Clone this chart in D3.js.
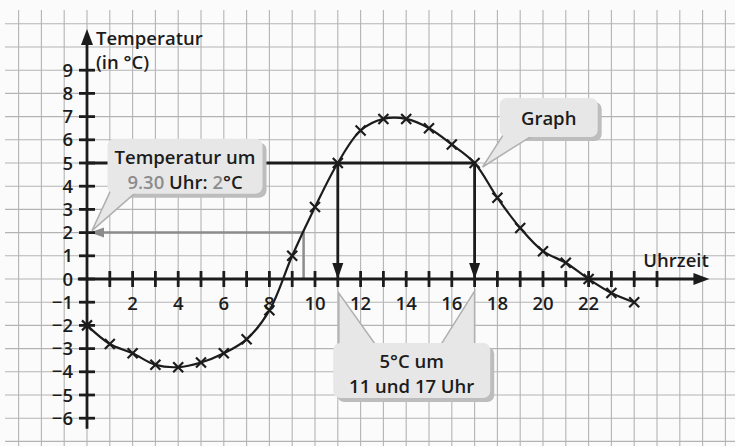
<!DOCTYPE html>
<html>
<head>
<meta charset="utf-8">
<script src="https://cdn.jsdelivr.net/npm/d3@7"></script>
<style>
  html, body { margin: 0; padding: 0; background: #fbfbfb; }
  svg { display: block; font-family: "Open Sans", "Noto Sans", sans-serif; }
</style>
</head>
<body>
<div id="chart"></div>
<script>
// data
let hours = [0, 1, 2, 3, 4, 5, 6, 7, 8, 9, 10, 11, 12, 13, 14, 15, 16, 17, 18, 19, 20, 21, 22, 23, 24];
let temps = [-2, -2.8, -3.2, -3.7, -3.8, -3.6, -3.2, -2.6, -1.35, 1, 3.1, 5, 6.4, 6.9, 6.9, 6.5, 5.8, 5, 3.5, 2.2, 1.2, 0.7, 0, -0.6, -1];
let yTicks = [-6, -5, -4, -3, -2, -1, 0, 1, 2, 3, 4, 5, 6, 7, 8, 9];
let xTicks = [1, 2, 3, 4, 5, 6, 7, 8, 9, 10, 11, 12, 13, 14, 15, 16, 17, 18, 19, 20, 21, 22, 23, 24, 25];
let xLabels = [2, 4, 6, 8, 10, 12, 14, 16, 18, 20, 22];
let readTime = 9.5, readTemp = 2;   // "Temperatur um 9.30 Uhr: 2°C"
let fiveDeg = 5, fiveTimes = [11, 17]; // "5°C um 11 und 17 Uhr"

let width = 735, height = 446;
let ink = "#1c1c1c", grey = "#8c8c8c", boxFill = "#e7e7e7", boxShadow = "#bdbdbd";
let fs = 18.5, fw = 600;

// scales: one grid square per hour / per degree
let x = d3.scaleLinear().domain([0, 28]).range([87, 87 + 28 * 22.8]);
let y = d3.scaleLinear().domain([0, 9]).range([279, 279 - 9 * 23.2]);

let svg = d3.select("#chart").append("svg")
    .attr("width", width)
    .attr("height", height);

// squared paper
let grid = svg.append("g").attr("stroke", "#b4b4b4").attr("stroke-width", 1.1);
grid.selectAll(".v").data(d3.range(-3, 29)).enter().append("line")
    .attr("x1", d => x(d)).attr("x2", d => x(d))
    .attr("y1", 10).attr("y2", height);
grid.selectAll(".h").data(d3.range(-7, 12)).enter().append("line")
    .attr("x1", 5).attr("x2", width)
    .attr("y1", d => y(d)).attr("y2", d => y(d));

// grey reading line at 9.30 Uhr
svg.append("path")
    .attr("d", "M" + x(readTime) + "," + y(0) + "V" + y(readTemp) + "H" + (x(0) + 14))
    .attr("fill", "none").attr("stroke", grey).attr("stroke-width", 2.5);
svg.append("path")
    .attr("d", "M" + (x(0) + 3) + "," + y(readTemp) + "L" + (x(0) + 17) + "," + (y(readTemp) - 5)
        + "L" + (x(0) + 17) + "," + (y(readTemp) + 5) + "Z")
    .attr("fill", grey);

// axes
let axes = svg.append("g").attr("stroke", ink).attr("stroke-width", 2.8);
axes.append("line").attr("x1", x(0)).attr("x2", x(0)).attr("y1", y(-6.45)).attr("y2", 40);
axes.append("line").attr("x1", x(-0.4)).attr("x2", x(26.8)).attr("y1", y(0)).attr("y2", y(0));
axes.selectAll(".yt").data(yTicks).enter().append("line")
    .attr("x1", x(0) - 8).attr("x2", x(0) + 8)
    .attr("y1", d => y(d)).attr("y2", d => y(d));
axes.selectAll(".xt").data(xTicks).enter().append("line")
    .attr("x1", d => x(d)).attr("x2", d => x(d))
    .attr("y1", y(0) - 8).attr("y2", y(0) + 8);
svg.append("path")
    .attr("d", "M" + x(0) + ",29L" + (x(0) - 6) + ",45L" + (x(0) + 6) + ",45Z")
    .attr("fill", ink);
svg.append("path")
    .attr("d", "M" + x(27.3) + "," + y(0) + "L" + (x(27.3) - 16) + "," + (y(0) - 6)
        + "L" + (x(27.3) - 16) + "," + (y(0) + 6) + "Z")
    .attr("fill", ink);

// tick labels
svg.selectAll(".yl").data(yTicks).enter().append("text")
    .attr("x", x(0) - 14).attr("y", d => y(d) + 6.5)
    .attr("text-anchor", "end").attr("font-size", fs).attr("font-weight", fw).attr("fill", ink)
    .text(d => d < 0 ? "\u2212" + (-d) : d);
svg.selectAll(".xl").data(xLabels).enter().append("text")
    .attr("x", d => x(d)).attr("y", y(0) + 31)
    .attr("text-anchor", "middle").attr("font-size", fs).attr("font-weight", fw).attr("fill", ink)
    .text(d => d);

// axis titles
svg.append("text").attr("x", x(0) + 9).attr("y", 45)
    .attr("font-size", fs).attr("font-weight", fw).attr("fill", ink).text("Temperatur");
svg.append("text").attr("x", x(0) + 9).attr("y", 69)
    .attr("font-size", fs).attr("font-weight", fw).attr("fill", ink).text("(in \u00b0C)");
svg.append("text").attr("x", x(24.4)).attr("y", y(0) - 12)
    .attr("font-size", fs).attr("font-weight", fw).attr("fill", ink).text("Uhrzeit");

// 5 °C reading lines
svg.append("line")
    .attr("x1", x(0)).attr("x2", x(d3.max(fiveTimes)))
    .attr("y1", y(fiveDeg)).attr("y2", y(fiveDeg))
    .attr("stroke", ink).attr("stroke-width", 2.8);
fiveTimes.forEach(function (t) {
    svg.append("line")
        .attr("x1", x(t)).attr("x2", x(t))
        .attr("y1", y(fiveDeg)).attr("y2", y(0) - 12)
        .attr("stroke", ink).attr("stroke-width", 2.8);
    svg.append("path")
        .attr("d", "M" + x(t) + "," + y(0) + "L" + (x(t) - 5.5) + "," + (y(0) - 16)
            + "L" + (x(t) + 5.5) + "," + (y(0) - 16) + "Z")
        .attr("fill", ink);
});

// the graph
let pts = hours.map((h, i) => [h, temps[i]]);
svg.append("path")
    .datum(pts)
    .attr("fill", "none").attr("stroke", ink).attr("stroke-width", 2.2)
    .attr("d", d3.line().x(d => x(d[0])).y(d => y(d[1])).curve(d3.curveCatmullRom));
svg.selectAll(".mark").data(pts).enter().append("path")
    .attr("transform", d => "translate(" + x(d[0]) + "," + y(d[1]) + ")")
    .attr("d", "M-5,-5L5,5M-5,5L5,-5")
    .attr("stroke", ink).attr("stroke-width", 2.2);

// speech bubbles
function bubble(left, top, w, h, tails, lines) {
    let g = svg.append("g");
    g.append("rect").attr("x", left + 4).attr("y", top + 4).attr("width", w).attr("height", h)
        .attr("rx", 7).attr("fill", boxShadow);
    tails.forEach(function (t) {
        g.append("path").attr("d", "M" + t.map(p => p.join(",")).join("L") + "Z")
            .attr("fill", boxFill).attr("stroke", "#b0b0b0").attr("stroke-width", 1.5);
    });
    g.append("rect").attr("x", left).attr("y", top).attr("width", w).attr("height", h)
        .attr("rx", 7).attr("fill", boxFill);
    lines.forEach(function (ln, i) {
        let t = g.append("text").attr("x", left + w / 2)
            .attr("y", top + (lines.length === 1 ? h / 2 + 7 : 25 + i * 25))
            .attr("text-anchor", "middle").attr("font-size", fs).attr("font-weight", fw).attr("fill", ink);
        ln.forEach(function (part) {
            t.append("tspan").attr("fill", part[1] ? grey : ink).text(part[0]);
        });
    });
}

let b1 = { left: x(0.9), top: y(6.05) };
bubble(b1.left, b1.top, 155, 55,
    [[[b1.left + 4, b1.top + 50], [x(0) + 5, y(readTemp) - 2], [b1.left + 28, b1.top + 54]]],
    [[["Temperatur um", 0]], [[String(readTime).replace(".5", ".30"), 1], [" Uhr: ", 0], [readTemp, 1], ["\u00b0C", 0]]]);

let b2 = { left: x(18.1), top: y(7.8) };
bubble(b2.left, b2.top, 98, 39,
    [[[b2.left + 4, b2.top + 36], [x(17) + 8, y(fiveDeg) + 4], [b2.left + 32, b2.top + 38]]],
    [[["Graph", 0]]]);

let b3 = { left: x(10.8), top: y(-2.76) };
bubble(b3.left, b3.top, 157, 55,
    [[[x(11) + 1, b3.top + 2], [x(11) + 1, y(0) + 14], [x(11) + 38, b3.top + 2]],
     [[x(17) - 34, b3.top + 2], [x(17), y(0) + 12], [x(17), b3.top + 2]]],
    [[["5\u00b0C um", 0]], [["11 und 17 Uhr", 0]]]);
</script>
</body>
</html>
